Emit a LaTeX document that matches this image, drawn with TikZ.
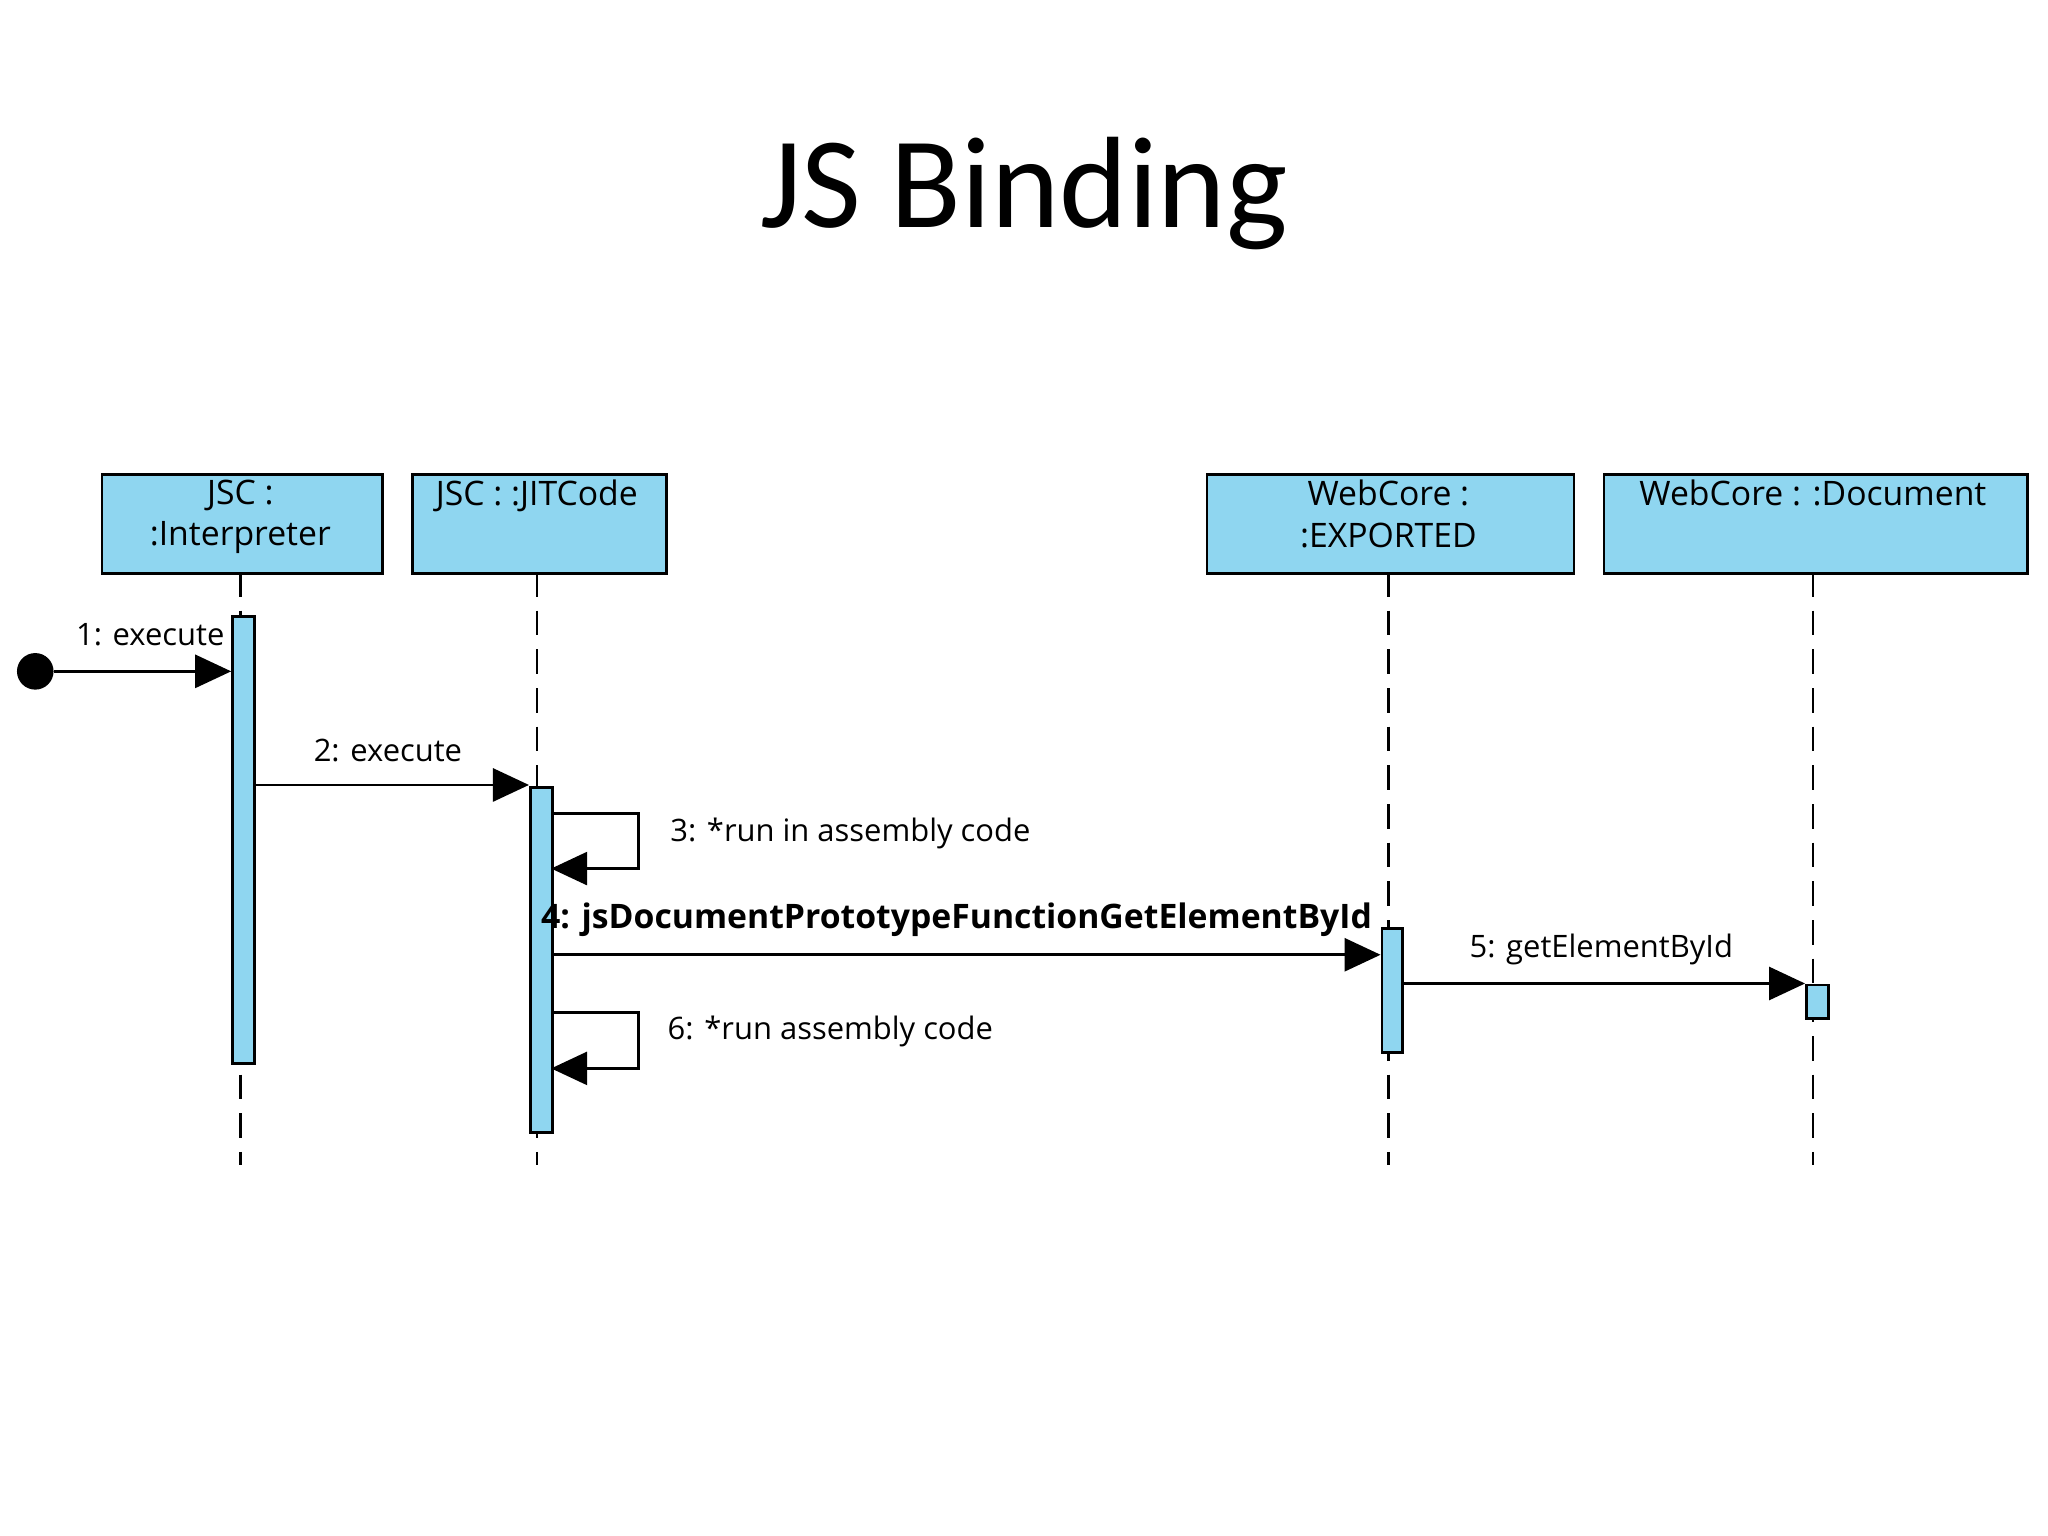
\documentclass[tikz,border=0pt]{standalone}
\usepackage{fontspec}
\setmainfont{Open Sans}
\newfontfamily\titlefont{Carlito}
\usetikzlibrary{arrows.meta}
\definecolor{boxblue}{HTML}{8FD6F0}
\begin{document}
\begin{tikzpicture}[x=0.013061cm,y=-0.013061cm,
  obj/.style={draw=black,fill=boxblue,line width=0.8pt,anchor=north west,inner sep=0pt},
  otxt/.style={font=\fontsize{9.6}{11.8}\selectfont,align=center,anchor=north,inner sep=0pt},
  act/.style={draw=black,fill=boxblue,line width=0.8pt,anchor=north west,inner sep=0pt},
  life/.style={line width=0.7pt,dash pattern=on 7pt off 4pt},
  msg/.style={line width=0.8pt,-{Triangle[length=0.36cm,width=0.33cm]}},
  lbl/.style={font=\fontsize{8.8}{10}\selectfont,inner sep=1pt}]
\useasboundingbox (0,0) rectangle (1568,1176);
\node[font=\titlefont\fontsize{37}{44}\selectfont] (title) at (784,148) {JS Binding};
% objects
\node[obj,minimum width=215*0.013061cm,minimum height=76*0.013061cm] (o1) at (77,362) {};
\node[otxt] (t1) at (184,367) {JSC :\\:Interpreter};
\node[obj,minimum width=194*0.013061cm,minimum height=76*0.013061cm] (o2) at (315,362) {};
\node[otxt] (t2) at (411,367) {JSC : :JITCode};
\node[obj,minimum width=281*0.013061cm,minimum height=76*0.013061cm] (o3) at (923,362) {};
\node[otxt] (t3) at (1063,367) {WebCore :\\:EXPORTED};
\node[obj,minimum width=324*0.013061cm,minimum height=76*0.013061cm] (o4) at (1227,362) {};
\node[otxt] (t4) at (1388,367) {WebCore : :Document};
% lifelines
\coordinate (e1) at (184,892); \coordinate (e2) at (411,892);
\coordinate (e3) at (1063,892); \coordinate (e4) at (1388,892);
\draw[life] (184,438) -- (e1);
\draw[life] (411,438) -- (e2);
\draw[life] (1063,438) -- (e3);
\draw[life] (1388,438) -- (e4);
% activations
\node[act,minimum width=17*0.013061cm,minimum height=342*0.013061cm] (a1) at (177,471) {};
\node[act,minimum width=17*0.013061cm,minimum height=264*0.013061cm] (a2) at (405,602) {};
\node[act,minimum width=16*0.013061cm,minimum height=95*0.013061cm] (a3) at (1057,710) {};
\node[act,minimum width=17*0.013061cm,minimum height=26*0.013061cm] (a4) at (1382,753) {};
% start
\node[circle,fill=black,minimum size=28*0.013061cm,inner sep=0pt] (start) at (27,514) {};
\draw[msg] (start) -- (177,514);
\node[lbl] at (115,486) {1: execute};
\draw[msg] (194,601) -- (405,601);
\node[lbl] at (297,575) {2: execute};
\draw[msg] (422,623) -- (489,623) -- (489,665) -- (422,665);
\node[lbl,anchor=west] at (510,638) {3: *run in assembly code};
\draw[msg] (422,731) -- (1057,731);
\node[lbl,anchor=west,font=\fontsize{9.6}{11}\selectfont\bfseries] at (411,704) {4: jsDocumentPrototypeFunctionGetElementById};
\draw[msg] (1073,753) -- (1382,753);
\node[lbl] at (1226,727) {5: getElementById};
\draw[msg] (422,775) -- (489,775) -- (489,818) -- (422,818);
\node[lbl,anchor=west] at (508,790) {6: *run assembly code};
\end{tikzpicture}
\end{document}
